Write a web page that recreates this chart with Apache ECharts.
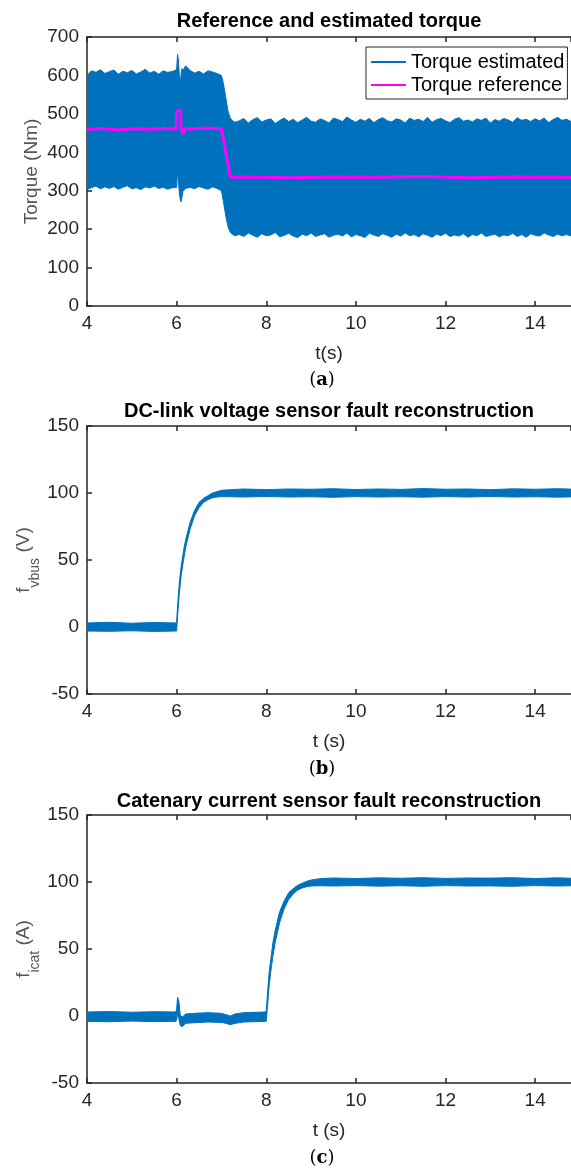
<!DOCTYPE html>
<html>
<head>
<meta charset="utf-8">
<script src="https://cdn.jsdelivr.net/npm/echarts@6/dist/echarts.min.js"></script>
<style>
html,body{margin:0;padding:0;background:#fff;}
#c{width:571px;height:1171px;}
</style>
</head>
<body>
<div id="c"></div>
<script>
// ---------- Data: chart (a) torque ----------
const tA = [
  4.0,4.1,4.2,4.3,4.4,4.5,4.6,4.7,4.8,4.9,5.0,5.1,5.2,5.3,5.4,5.5,5.6,5.7,5.8,5.9,
  6.0,6.02,6.04,6.06,6.08,6.1,6.12,6.14,6.2,
  6.3,6.4,6.5,6.6,6.7,6.8,6.9,7.0,
  7.05,7.1,7.15,7.2,7.25,7.3,
  7.4,7.5,7.6,7.7,7.8,7.9,8.0,8.1,8.2,8.3,
  8.4,8.5,8.6,8.7,8.8,8.9,9.0,9.1,9.2,9.3,
  9.4,9.5,9.6,9.7,9.8,9.9,10.0,10.1,10.2,10.3,
  10.4,10.5,10.6,10.7,10.8,10.9,11.0,11.1,11.2,11.3,
  11.4,11.5,11.6,11.7,11.8,11.9,12.0,12.1,12.2,12.3,
  12.4,12.5,12.6,12.7,12.8,12.9,13.0,13.1,13.2,13.3,
  13.4,13.5,13.6,13.7,13.8,13.9,14.0,14.1,14.2,14.3,
  14.4,14.5,14.6,14.7,14.8
];
const torqueEstHigh = [
  600,612,608,615,605,610,614,603,611,607,613,604,609,616,606,611,603,612,608,610,
  615,655,640,600,578,604,618,612,625,
  613,606,611,604,612,609,605,600,
  575,540,505,488,482,478,
  482,488,476,485,490,479,484,487,475,483,
  489,480,486,477,484,491,481,478,487,483,
  476,489,485,480,492,484,478,486,481,488,
  477,485,490,482,479,487,484,476,489,483,
  486,480,491,478,485,488,482,477,486,490,
  481,484,479,487,483,489,476,485,481,488,
  484,478,490,483,486,480,487,482,489,477,
  485,491,483,486,480
];
const torqueEstLow = [
  303,308,312,305,310,306,311,304,309,313,305,308,303,310,307,312,306,309,304,308,
  308,352,325,295,278,271,283,298,306,
  309,305,311,307,304,310,306,300,
  268,232,205,191,186,183,
  186,181,190,184,179,188,183,185,191,180,
  184,189,182,178,187,183,190,181,185,188,
  179,184,187,182,190,180,186,183,178,189,
  185,181,188,184,179,187,182,190,183,186,
  180,188,184,179,187,183,189,181,185,182,
  188,179,186,183,190,181,184,187,180,185,
  183,189,181,186,179,188,184,182,190,185,
  181,187,183,186,182
];
const tRef = [4.0,4.3,4.7,5.0,5.4,5.8,5.99,6.0,6.09,6.1,6.14,6.18,6.3,6.6,7.0,7.2,7.6,8.5,9.5,10.5,11.5,12.5,13.5,14.8];
const torqueRef = [459,462,458,461,460,462,460,508,508,462,448,462,460,463,461,335,336,334,336,335,337,334,336,335];

// ---------- Data: chart (b) DC-link voltage fault ----------
const tB = [4.0,4.5,5.0,5.5,5.98,6.0,6.03,6.06,6.1,6.15,6.2,6.3,6.4,6.5,6.6,6.7,6.8,6.9,7.0,7.2,7.5,8.0,8.5,9.0,9.5,10.0,10.5,11.0,11.5,12.0,12.5,13.0,13.5,14.0,14.5,14.8];
const fvbusHigh = [3,3.5,2.8,3.4,3,4,20,33,45,56,65,78,87,93,96,98,100,101,102,102.5,103,102.5,103,102.8,103.2,102.6,103,102.7,103.3,102.8,103,102.5,103.1,102.8,103.2,102.9];
const fvbusLow = [-3,-3.2,-2.8,-3.3,-3,-3,12,25,38,49,59,73,83,89,93,95,96.5,97,97.3,97.2,97,97.4,97,97.2,96.8,97.3,97,97.2,96.9,97.3,97,97.4,97,97.2,96.9,97.1];

// ---------- Data: chart (c) catenary current fault ----------
const tC = [4.0,4.5,5.0,5.5,5.98,6.0,6.02,6.05,6.08,6.12,6.2,6.4,6.7,7.0,7.1,7.2,7.3,7.5,7.8,7.98,8.0,8.03,8.06,8.1,8.15,8.2,8.3,8.4,8.5,8.6,8.7,8.8,8.9,9.0,9.2,9.5,10.0,10.5,11.0,11.5,12.0,12.5,13.0,13.5,14.0,14.5,14.8];
const ficatHigh = [3,3.3,2.8,3.2,3,5,14,11,1,-1,1.5,2,2.5,2,1,0,1.5,2.5,2.8,3,4,18,31,42,55,64,78,86,92,95,97.5,99,100.5,101.5,102.5,103,102.6,103.1,102.8,103.2,102.7,103,102.9,103.2,102.6,103.1,102.8];
const ficatLow = [-4,-4.3,-3.8,-4.2,-4,-3,2,-2,-7,-8,-5.5,-5,-4.5,-4.8,-5.5,-6.5,-5.5,-4.5,-4.2,-4,-4,8,21,33,45,55,70,80,87,91,94,95.5,96.5,97,97.2,97,97.3,96.9,97.2,96.8,97.3,97,97.1,96.8,97.3,97,97.2];

// ---------- Axis ticks / labels ----------
const xTicks = {min: 4, max: 14.8, interval: 2};
const yTicksA = {min: 0, max: 700, interval: 100};
const yTicksBC = {min: -50, max: 150, interval: 50};
const titles = ['Reference and estimated torque', 'DC-link voltage sensor fault reconstruction', 'Catenary current sensor fault reconstruction'];
const captions = ['a', 'b', 'c'];

// ---------- Styling ----------
const BLUE = '#0072BD';
const MAG = '#FF00FF';
const AX = '#262626';
const FONT = '"Liberation Sans", Arial, Helvetica, sans-serif';
const grids = [
  {left: 87, top: 37, width: 484, height: 269},
  {left: 87, top: 426, width: 484, height: 268},
  {left: 87, top: 815, width: 484, height: 268}
];

const chart = echarts.init(document.getElementById('c'), null, {renderer: 'canvas'});

function xAxes(i, name) {
  const common = {
    gridIndex: i, type: 'value', min: xTicks.min, max: xTicks.max, interval: xTicks.interval,
    axisLine: {onZero: false, lineStyle: {color: AX, width: 1.5}},
    axisTick: {inside: true, length: 5, lineStyle: {color: AX, width: 1.5}},
    splitLine: {show: false}
  };
  return [
    Object.assign({}, common, {
      position: 'bottom',
      axisLabel: {fontSize: 19, color: AX, fontFamily: FONT, margin: 8, showMaxLabel: false},
      name: name, nameLocation: 'middle', nameGap: 38, nameMoveOverlap: false,
      nameTextStyle: {fontSize: 19, color: AX, fontFamily: FONT}
    }),
    Object.assign({}, common, {position: 'top', axisLabel: {show: false}})
  ];
}
function yAxis(i, ticks, name, rich, gap) {
  return {
    gridIndex: i, type: 'value', min: ticks.min, max: ticks.max, interval: ticks.interval,
    position: 'left',
    axisLine: {onZero: false, lineStyle: {color: AX, width: 1.5}},
    axisTick: {inside: true, length: 5, lineStyle: {color: AX, width: 1.5}},
    axisLabel: {fontSize: 19, color: AX, fontFamily: FONT, margin: 8},
    splitLine: {show: false},
    name: name, nameLocation: 'middle', nameRotate: 90, nameGap: gap, nameMoveOverlap: false,
    nameTextStyle: Object.assign({fontSize: 19, color: '#555', fontFamily: FONT}, rich ? {rich: rich} : {})
  };
}
// Envelope band drawn as one polygon through the axis scales (api.coord)
function band(i, t, lo, hi, name) {
  return {
    name: name, type: 'custom', xAxisIndex: 2 * i, yAxisIndex: i, silent: true, clip: true,
    data: t.map((x, k) => [x, lo[k], hi[k]]),
    encode: {x: 0, y: [1, 2]},
    itemStyle: {color: BLUE},
    z: 2,
    renderItem: function (params, api) {
      if (params.dataIndexInside !== 0) return null;
      const n = params.dataInsideLength;
      const top = [], bot = [];
      for (let j = 0; j < n; j++) {
        const x = api.value(0, j);
        top.push(api.coord([x, api.value(2, j)]));
        bot.push(api.coord([x, api.value(1, j)]));
      }
      const pts = top.concat(bot.reverse());
      return {
        type: 'polygon',
        shape: {points: pts},
        style: {fill: BLUE, stroke: BLUE, lineWidth: 1}
      };
    }
  };
}

const subRich = {
  a: {fontSize: 19, color: '#555', fontFamily: FONT, lineHeight: 24, verticalAlign: 'top'},
  s: {fontSize: 14, color: '#555', fontFamily: FONT, lineHeight: 17, verticalAlign: 'top', padding: [14, 0, 0, 0]}
};

const graphics = [];
titles.forEach((tt, i) => {
  graphics.push({
    type: 'text', x: 329, y: [21, 411, 801][i],
    style: {text: tt, fill: '#000', font: 'bold 20px ' + FONT, align: 'center', verticalAlign: 'middle'}
  });
  graphics.push({
    type: 'text', x: 322, y: [380, 769, 1158][i],
    style: {
      text: '{p|(}{b|' + captions[i] + '}{p|)}', align: 'center', verticalAlign: 'middle',
      rich: {
        p: {fontFamily: '"DejaVu Serif", "Liberation Serif", serif', fontSize: 18, fill: '#000'},
        b: {fontFamily: '"DejaVu Serif", "Liberation Serif", serif', fontSize: 18, fontWeight: 'bold', fill: '#000'}
      }
    }
  });
});

const option = {
  animation: false,
  backgroundColor: '#fff',
  grid: grids,
  xAxis: [].concat(xAxes(0, 't(s)'), xAxes(1, 't (s)'), xAxes(2, 't (s)')),
  yAxis: [
    yAxis(0, yTicksA, 'Torque (Nm)', null, 46),
    yAxis(1, yTicksBC, '{a|f}{s|vbus}{a| (V)}', subRich, 49),
    yAxis(2, yTicksBC, '{a|f}{s|icat}{a| (A)}', subRich, 49)
  ],
  legend: {
    orient: 'vertical', left: 366, top: 47, padding: [5, 3, 4, 5], itemGap: 3,
    itemWidth: 35, itemHeight: 2, selectedMode: false,
    borderColor: AX, borderWidth: 1, backgroundColor: '#fff',
    textStyle: {fontSize: 20, color: '#000', fontFamily: FONT},
    data: [{name: 'Torque estimated', icon: 'rect', itemStyle: {color: BLUE}}, {name: 'Torque reference', icon: 'rect', itemStyle: {color: MAG}}]
  },
  series: [
    band(0, tA, torqueEstLow, torqueEstHigh, 'Torque estimated'),
    {
      name: 'Torque reference', type: 'line', xAxisIndex: 0, yAxisIndex: 0,
      data: tRef.map((x, k) => [x, torqueRef[k]]), symbol: 'none', silent: true,
      lineStyle: {color: MAG, width: 3}, itemStyle: {color: MAG}, z: 3
    },
    band(1, tB, fvbusLow, fvbusHigh, 'fvbus'),
    band(2, tC, ficatLow, ficatHigh, 'ficat')
  ],
  graphic: graphics
};
chart.setOption(option);
</script>
</body>
</html>
